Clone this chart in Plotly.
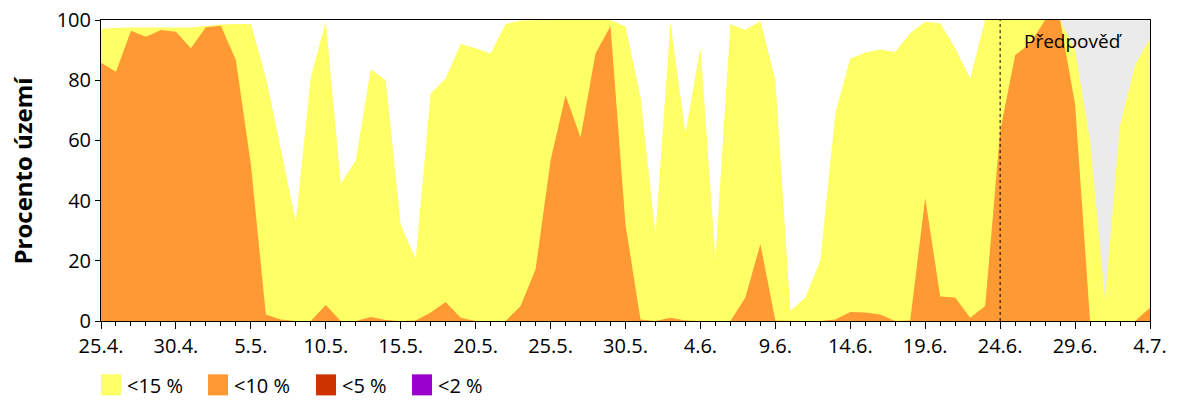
import plotly.graph_objects as go
import pandas as pd

dates = pd.date_range("2024-04-25", "2024-07-04", freq="D")
tick_labels = ["25.4.", "30.4.", "5.5.", "10.5.", "15.5.", "20.5.", "25.5.", "30.5.",
               "4.6.", "9.6.", "14.6.", "19.6.", "24.6.", "29.6.", "4.7."]

lt15 = [97, 97.4, 97.5, 97.5, 97.5, 97.5, 97.5, 98, 98.5, 98.7,
        98.7, 81, 57, 33, 81, 99.4, 45.6, 53.3, 83.6, 80,
        32, 20.6, 75.6, 80.6, 92, 90.6, 88.9, 98.7, 99.8, 100,
        100, 100, 100, 100, 100, 97.8, 74.4, 28.9, 99.1, 62.2,
        91.1, 20.6, 98.7, 96.7, 99.7, 80, 3.3, 7.8, 20, 68.9,
        87.2, 89.1, 90.2, 89.4, 95.6, 99.4, 98.9, 90.6, 80.6, 100,
        100, 100, 100, 100, 100, 90, 60, 7, 65, 85,
        94]
lt10 = [85.8, 82.8, 96.4, 94.4, 96.7, 96.1, 90.6, 97.6, 98.1, 86.7,
        52, 2.2, 0.5, 0, 0, 5.3, 0, 0, 1.3, 0.3,
        0, 0.2, 2.8, 6.3, 1.1, 0, 0, 0, 5, 17.2,
        53.3, 75, 61, 88.9, 98, 32, 0.5, 0, 1.1, 0.2,
        0, 0, 0, 7.8, 25.6, 0.2, 0, 0, 0, 0.5,
        3, 2.8, 2.2, 0, 0.2, 40.9, 8.1, 7.8, 1.1, 5,
        63, 88.3, 92.2, 100, 100, 72, 0, 0, 0, 0,
        4.4]
lt5 = [0] * 71
lt2 = [0] * 71

series_names = ["<15 %", "<10 %", "<5 %", "<2 %"]
series_colors = ["#FFFF66", "#FF9933", "#CC3300", "#9900CC"]
series_values = [lt15, lt10, lt5, lt2]

forecast_start = "2024-06-24"
forecast_label = "Předpověď"
y_title = "Procento území"

FONT = "Open Sans, Noto Sans, DejaVu Sans, sans-serif"

fig = go.Figure()
for name, col, vals in zip(series_names, series_colors, series_values):
    fig.add_trace(go.Scatter(
        x=dates, y=vals, name=name, mode="lines",
        line=dict(width=0, color=col), fill="tozeroy", fillcolor=col,
        showlegend=False, hoverinfo="x+y+name"))

# forecast background
fig.add_shape(type="rect", xref="x", yref="y", x0=forecast_start, x1=dates[-1],
              y0=0, y1=100, fillcolor="#EBEBEB", line_width=0, layer="below")
fig.add_shape(type="line", xref="x", yref="y", x0=forecast_start, x1=forecast_start,
              y0=0, y1=100, line=dict(color="black", width=1, dash="3px,3px"), layer="above")
fig.add_annotation(x=0.878, xref="paper", y=0.93, yref="paper", text=forecast_label,
                   showarrow=False, xanchor="left", yanchor="middle",
                   font=dict(family=FONT, size=19, color="black"))

# y title
fig.add_annotation(x=-0.0753, xref="paper", y=0.50, yref="paper", text="<b>" + y_title + "</b>",
                   textangle=-90, showarrow=False, xanchor="center", yanchor="middle",
                   font=dict(family=FONT, size=24, color="black"))

# custom legend
PW, PH = 1049.0, 300.7
def px_to_paper_x(px):
    return (px - 101.0) / PW
def px_to_paper_y(py):
    return (320.7 - py) / PH

legend_x = [101, 208, 316, 412]
for lx, name, col in zip(legend_x, series_names, series_colors):
    fig.add_shape(type="rect", xref="paper", yref="paper",
                  x0=px_to_paper_x(lx), x1=px_to_paper_x(lx + 20),
                  y0=px_to_paper_y(395), y1=px_to_paper_y(374),
                  fillcolor=col, line_width=0)
    fig.add_annotation(x=px_to_paper_x(lx + 24), xref="paper", y=px_to_paper_y(385), yref="paper",
                       text=name, showarrow=False, xanchor="left", yanchor="middle",
                       font=dict(family=FONT, size=20, color="black"))

fig.update_layout(
    width=1200, height=400,
    margin=dict(l=101, r=50, t=20, b=79, autoexpand=False),
    paper_bgcolor="white", plot_bgcolor="white",
    showlegend=False,
    font=dict(family=FONT, size=20, color="black"),
)
fig.update_xaxes(
    range=[dates[0], dates[-1]],
    tickvals=dates[::5], ticktext=tick_labels,
    ticks="outside", ticklen=7, tickcolor="black", tickwidth=1,
    minor=dict(dtick=86400000, ticks="outside", ticklen=4, tickcolor="black", tickwidth=1),
    showline=True, linecolor="black", linewidth=1, mirror=True,
    showgrid=False, zeroline=False, automargin=False,
    tickfont=dict(family=FONT, size=20, color="black"),
)
fig.update_yaxes(
    range=[0, 100], tickvals=[0, 20, 40, 60, 80, 100],
    ticks="outside", ticklen=5, tickcolor="black", tickwidth=1,
    showline=True, linecolor="black", linewidth=1, mirror=True,
    showgrid=False, zeroline=False, automargin=False,
    tickfont=dict(family=FONT, size=20, color="black"),
)

fig.write_html("out.html")
